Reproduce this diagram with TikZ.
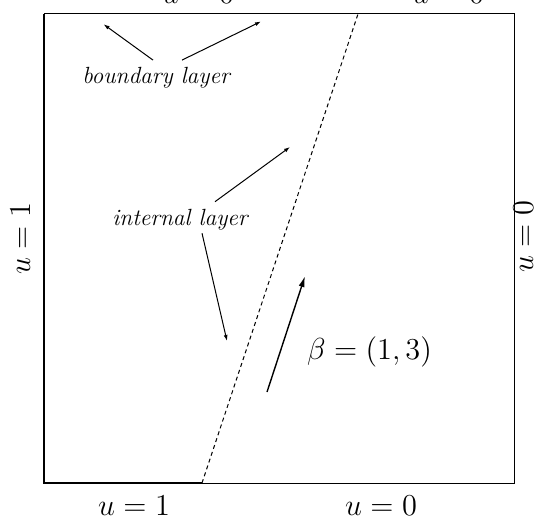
\RequirePackage{fix-cm}
\documentclass[tikz,border=0pt]{standalone}
\usepackage{tikz}
\usetikzlibrary{arrows.meta}

\begin{document}
\begin{tikzpicture}[x=0.5pt,y=-0.5pt,
  bignum/.style={font=\fontsize{15.2}{18}\selectfont,anchor=base},
  layertxt/.style={font=\fontsize{11.7}{14}\selectfont\itshape,anchor=base},
  pointer/.style={-{Latex[length=3pt,width=2pt]},line width=0.5pt}]
  \useasboundingbox (0,0) rectangle (544,519);
  \clip (0,0) rectangle (544,519);
  \coordinate (sw) at (44,483); \coordinate (nw) at (44,14); \coordinate (ne) at (514,14);
  \coordinate (p) at (202,483); \coordinate (q) at (358,14);
  \draw[line width=0.5pt] (sw) rectangle (ne);
  \draw[line width=1.4pt] (nw) -- (sw) -- (p);
  \draw[dash pattern=on 2pt off 1.6pt,line width=0.5pt] (p) -- (q);
  % boundary data
  \node[bignum] (top0a) at (198,4) {$u=0$};
  \node[bignum] (top0b) at (448,4) {$u=0$};
  \node[bignum] (bot1) at (134,515.5) {$u=1$};
  \node[bignum] (bot0) at (381,515.5) {$u=0$};
  \node[bignum,rotate=90] (lft) at (30,238.5) {$u=1$};
  \node[bignum,rotate=90] (rgt) at (533,237) {$u=0$};
  % layers
  \node[layertxt] (bl) at (156,83.4) {boundary layer};
  \node[layertxt] (il) at (180,225) {internal layer};
  \coordinate (blA) at (103.6,24.3); \coordinate (blB) at (261,21.5);
  \coordinate (ilA) at (290,147); \coordinate (ilB) at (227,341);
  \draw[pointer] ([xshift=-1.5pt]bl.north) -- (blA);
  \draw[pointer] ([xshift=13pt]bl.north) -- (blB);
  \draw[pointer] ([xshift=17.5pt]il.north) -- (ilA);
  \draw[pointer] ([xshift=11pt,yshift=1.8pt]il.south) -- (ilB);
  % convection
  \coordinate (b0) at (267,392); \coordinate (b1) at (305,276);
  \draw[-{Latex[length=5.5pt,width=3pt]},line width=0.7pt] (b0) -- (b1);
  \node[bignum] (beta) at (369.5,359.5) {$\beta=(1,3)$};
\end{tikzpicture}
\end{document}
